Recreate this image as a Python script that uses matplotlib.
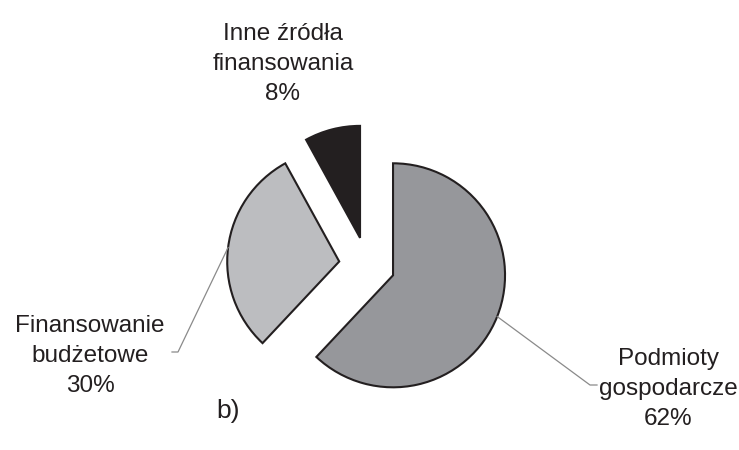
import numpy as np
import matplotlib.pyplot as plt

plt.rcParams['font.family'] = ['Liberation Sans', 'DejaVu Sans']

labels = ['Podmioty\ngospodarcze\n62%', 'Finansowanie\nbudżetowe\n30%', 'Inne źródła\nfinansowania\n8%']
shares = [62, 30, 8]
colors = ['#96979b', '#bcbdc0', '#231f20']

W, H = 739, 450
fig = plt.figure(figsize=(W / 100, H / 100), dpi=100)
ax = fig.add_axes([0, 0, 1, 1])

cx, cy = 367, H - 265
r = 112
off = 28

wedges, _ = ax.pie(shares, colors=colors, startangle=90, counterclock=False,
                   center=(cx, cy), radius=r, explode=[off] * 3,
                   wedgeprops=dict(edgecolor='#231f20', linewidth=1.5),
                   frame=True)
ax.set_xlim(0, W)
ax.set_ylim(0, H)
ax.set_aspect('equal')
ax.axis('off')

# label blocks (centre of text) and the point where the leader line ends
txt_pos = [(668, H - 389), (90, H - 356), (283, H - 64)]
leader_end = [(590, H - 385, 597), (178, H - 352, 172), None]

for w, lab, (tx, ty), le in zip(wedges, labels, txt_pos, leader_end):
    ax.text(tx, ty, lab, ha='center', va='center', fontsize=17.5,
            linespacing=1.45, color='#231f20')
    if le is None:
        continue
    mid = np.deg2rad((w.theta1 + w.theta2) / 2)
    x0 = w.center[0] + r * np.cos(mid)
    y0 = w.center[1] + r * np.sin(mid)
    ax.plot([x0, le[0], le[2]], [y0, le[1], le[1]], color='#8a8a8a', lw=0.9)

ax.text(228, H - 411, 'b)', ha='center', va='center', fontsize=19, color='#231f20')

fig.savefig('out.png', dpi=100)
